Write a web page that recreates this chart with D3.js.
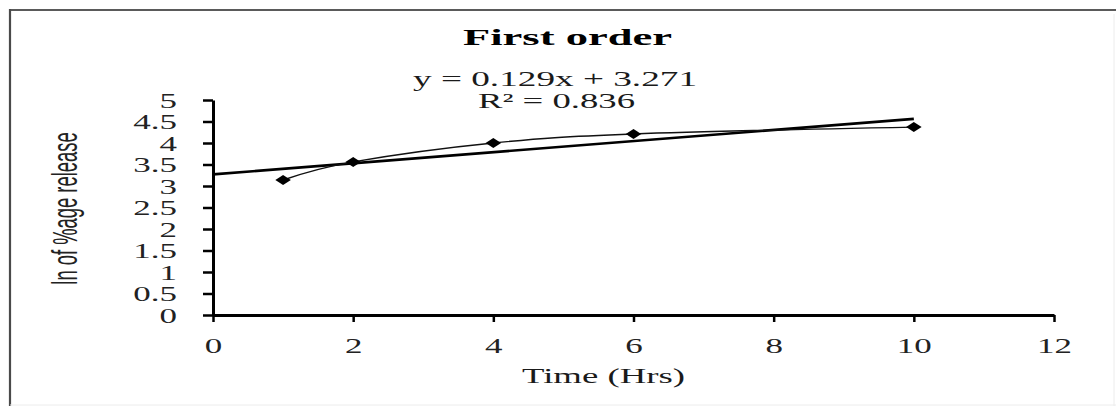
<!DOCTYPE html>
<html>
<head>
<meta charset="utf-8">
<script src="https://cdn.jsdelivr.net/npm/d3@7/dist/d3.min.js"></script>
<style>
  body { margin: 0; background: #fff; }
  svg { display: block; }
  text { font-family: "Liberation Serif", "Times New Roman", serif; fill: #1a1a1a; }
</style>
</head>
<body>
<div id="chart"></div>
<script>
// Data
var times = [1, 2, 4, 6, 10];
var lnRelease = [3.14, 3.56, 4.00, 4.21, 4.37];
var slope = 0.129, intercept = 3.271;
var trendRange = [0, 10];
var xTicks = [0, 2, 4, 6, 8, 10, 12];
var yTicks = [0, 0.5, 1, 1.5, 2, 2.5, 3, 3.5, 4, 4.5, 5];
var titleText = 'First order';
var eqText = 'y = 0.129x + 3.271';
var r2Text = 'R\u00b2 = 0.836';
var xTitle = 'Time (Hrs)';
var yTitle = 'ln of %age release';

var width = 1116, height = 406;
var SX = 1.75; // the picture is stretched sideways

var svg = d3.select('#chart').append('svg')
    .attr('width', width).attr('height', height);

// frame (cropped at right and bottom)
svg.append('line').attr('x1', 9).attr('x2', width).attr('y1', 10).attr('y2', 10)
    .style('stroke', '#5a5a5a').style('stroke-width', 2.2);
svg.append('line').attr('x1', 10).attr('x2', 10).attr('y1', 9).attr('y2', height)
    .style('stroke', '#4a4a4a').style('stroke-width', 2.2);
svg.append('line').attr('x1', 1114).attr('x2', 1114).attr('y1', 14).attr('y2', height)
    .style('stroke', '#ececec').style('stroke-width', 1);
svg.append('line').attr('x1', 10).attr('x2', width).attr('y1', 405).attr('y2', 405)
    .style('stroke', '#ececec').style('stroke-width', 1);

var x = d3.scaleLinear().domain([0, 12]).range([213, 1054]);
var y = d3.scaleLinear().domain([0, 5]).range([315, 100]);

// y axis
var yAxis = svg.append('g')
    .attr('transform', 'translate(' + x(0) + ',0)')
    .call(d3.axisLeft(y).tickValues(yTicks).tickSize(10).tickSizeOuter(0)
        .tickFormat(function(d) { return String(d); }));
yAxis.select('.domain').style('stroke', '#000').style('stroke-width', 3);
yAxis.selectAll('.tick line').style('stroke', '#000').style('stroke-width', 2.5);
yAxis.selectAll('.tick text')
    .attr('x', null).attr('dy', null)
    .attr('transform', 'translate(-36,7) scale(' + SX + ',1)')
    .style('font-size', '20px').style('fill', '#222')
    .attr('text-anchor', 'end');
yAxis.attr('font-family', null).attr('font-size', null);

// x axis
var xAxis = svg.append('g')
    .attr('transform', 'translate(0,' + y(0) + ')')
    .call(d3.axisBottom(x).tickValues(xTicks).tickSize(7).tickSizeOuter(0));
xAxis.select('.domain').style('stroke', '#000').style('stroke-width', 3);
xAxis.selectAll('.tick line').style('stroke', '#000').style('stroke-width', 2.5);
xAxis.selectAll('.tick text')
    .attr('y', null).attr('dy', null)
    .attr('transform', 'translate(0,38) scale(' + SX + ',1)')
    .style('font-size', '20px').style('fill', '#222')
    .attr('text-anchor', 'middle');
xAxis.attr('font-family', null).attr('font-size', null);

// trend line
svg.append('line')
    .attr('x1', x(trendRange[0])).attr('y1', y(slope * trendRange[0] + intercept))
    .attr('x2', x(trendRange[1])).attr('y2', y(slope * trendRange[1] + intercept))
    .style('stroke', '#000').style('stroke-width', 2.6);

// smoothed data line
var pts = times.map(function(t, i) { return [t, lnRelease[i]]; });
var line = d3.line()
    .x(function(d) { return x(d[0]); })
    .y(function(d) { return y(d[1]); })
    .curve(d3.curveCardinal.tension(0));
svg.append('path').datum(pts)
    .attr('d', line)
    .style('fill', 'none').style('stroke', '#111').style('stroke-width', 1.4);

// diamond markers
var diamond = d3.symbol().type(d3.symbolDiamond2).size(64);
svg.selectAll('path.marker').data(pts).enter().append('path')
    .attr('class', 'marker')
    .attr('d', diamond)
    .attr('transform', function(d) {
        return 'translate(' + x(d[0]) + ',' + y(d[1]) + ') scale(1.55,1)';
    })
    .style('fill', '#000');

// texts
svg.append('text')
    .attr('x', 463).attr('y', 45)
    .attr('textLength', 209).attr('lengthAdjust', 'spacingAndGlyphs')
    .style('font-size', '24px').style('font-weight', 'bold').style('fill', '#000')
    .text(titleText);

svg.append('text')
    .attr('x', 413).attr('y', 86)
    .attr('textLength', 284).attr('lengthAdjust', 'spacingAndGlyphs')
    .style('font-size', '21px')
    .text(eqText);

svg.append('text')
    .attr('x', 478).attr('y', 108)
    .attr('textLength', 157).attr('lengthAdjust', 'spacingAndGlyphs')
    .style('font-size', '21px')
    .text(r2Text);

svg.append('text')
    .attr('x', 522).attr('y', 383)
    .attr('textLength', 163).attr('lengthAdjust', 'spacingAndGlyphs')
    .style('font-size', '22px')
    .text(xTitle);

svg.append('text')
    .attr('transform', 'translate(77,' + ((y(0) + y(5)) / 2 + 1) + ') rotate(-90) scale(0.92,1.8)')
    .attr('text-anchor', 'middle')
    .style('font-family', '"Liberation Sans", Arial, sans-serif')
    .style('font-size', '20px').style('fill', '#222')
    .text(yTitle);
</script>
</body>
</html>
